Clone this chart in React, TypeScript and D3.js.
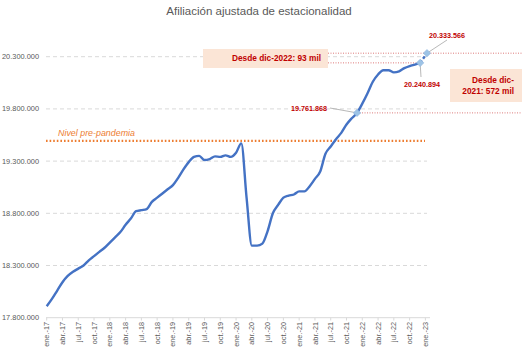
import React from "react";
import * as d3 from "d3";

const W = 522;
const H = 349;

const yTicks = [17800000, 18300000, 18800000, 19300000, 19800000, 20300000];
const xTickLabels = [
  "ene.-17", "abr.-17", "jul.-17", "oct.-17",
  "ene.-18", "abr.-18", "jul.-18", "oct.-18",
  "ene.-19", "abr.-19", "jul.-19", "oct.-19",
  "ene.-20", "abr.-20", "jul.-20", "oct.-20",
  "ene.-21", "abr.-21", "jul.-21", "oct.-21",
  "ene.-22", "abr.-22", "jul.-22", "oct.-22",
  "ene.-23",
];

// Monthly seasonally adjusted affiliation, ene-2017 .. dic-2022
const afiliacion = [
  17910000, 17980000, 18060000, 18140000, 18200000, 18240000, 18270000, 18300000, 18350000, 18390000, 18430000, 18470000,
  18520000, 18570000, 18620000, 18690000, 18750000, 18820000, 18830000, 18840000, 18910000, 18950000, 18990000, 19030000,
  19070000, 19140000, 19220000, 19290000, 19340000, 19350000, 19310000, 19320000, 19345000, 19340000, 19355000, 19340000,
  19380000, 19470000, 18950000, 18490000, 18490000, 18510000, 18630000, 18800000, 18880000, 18950000, 18970000, 18980000,
  19010000, 19010000, 19060000, 19130000, 19200000, 19370000, 19440000, 19510000, 19570000, 19650000, 19710000, 19761868,
  19850000, 19950000, 20060000, 20130000, 20170000, 20170000, 20150000, 20160000, 20190000, 20210000, 20225000, 20240894,
];
const proyeccion = [20240894, 20333566]; // dic-22 -> ene-23
const nivelPrePandemia = 19493000;
const marcados = [
  { idx: 59, value: 19761868, label: "19.761.868" },
  { idx: 71, value: 20240894, label: "20.240.894" },
  { idx: 72.3, value: 20333566, label: "20.333.566" },
];

const fmt = (v: number) => d3.format(",")(v).replace(/,/g, ".");

export default function App() {
  const x = d3.scaleLinear().domain([0, 72]).range([46.7, 425.4]);
  const y = d3.scaleLinear().domain([17800000, 20300000]).range([317.7, 56.7]);

  const line = d3
    .line<number>()
    .x((_, i) => x(i))
    .y((d) => y(d))
    .curve(d3.curveMonotoneX);

  const projX = [71, 72.3];
  const projLine = d3
    .line<number>()
    .x((_, i) => x(projX[i]))
    .y((d) => y(d));

  const font = "Liberation Sans, Arial, sans-serif";
  const red = "#c00000";
  const gridRight = 427;

  const [m21, m22, m23] = marcados;

  return (
    <svg
      width={W}
      height={H}
      style={{ position: "absolute", left: 0, top: 0, background: "#fff" }}
      fontFamily={font}
    >
      <text x={259} y={15} textAnchor="middle" fontSize={11.5} fill="#595959">
        Afiliación ajustada de estacionalidad
      </text>

      {/* grid */}
      {yTicks.map((t) => (
        <g key={t}>
          {t !== 17800000 && (
            <line
              x1={46}
              x2={gridRight}
              y1={y(t)}
              y2={y(t)}
              stroke="#d9d9d9"
              strokeWidth={1}
              strokeDasharray="4,3"
            />
          )}
          <text
            x={39}
            y={y(t)}
            dy="0.35em"
            textAnchor="end"
            fontSize={7.4}
            fill="#595959"
          >
            {fmt(t)}
          </text>
        </g>
      ))}

      {/* x axis */}
      <line x1={46} x2={430} y1={317.7} y2={317.7} stroke="#d9d9d9" strokeWidth={1} />
      {xTickLabels.map((lab, i) => (
        <g key={lab}>
          <line x1={x(i * 3)} x2={x(i * 3)} y1={317.7} y2={320.5} stroke="#d9d9d9" />
          <text
            transform={`translate(${x(i * 3)},322) rotate(-90)`}
            dy="0.35em"
            textAnchor="end"
            fontSize={7.3}
            fill="#595959"
          >
            {lab}
          </text>
        </g>
      ))}

      {/* pre-pandemic */}
      <line
        x1={46}
        x2={425}
        y1={y(nivelPrePandemia)}
        y2={y(nivelPrePandemia)}
        stroke="#ed7d31"
        strokeWidth={2.2}
        strokeDasharray="1.6,2"
      />
      <text x={58} y={y(nivelPrePandemia) - 5} fontSize={8.9} fontStyle="italic" fill="#ed7d31">
        Nivel pre-pandemia
      </text>

      {/* red dotted reference lines */}
      <line x1={328} x2={W} y1={y(m23.value)} y2={y(m23.value)} stroke={red} strokeWidth={0.8} strokeDasharray="1,1.5" opacity={0.65} />
      <line x1={328} x2={x(m22.idx)} y1={y(m22.value)} y2={y(m22.value)} stroke={red} strokeWidth={0.8} strokeDasharray="1,1.5" opacity={0.65} />
      <line x1={x(m21.idx)} x2={W} y1={y(m21.value)} y2={y(m21.value)} stroke={red} strokeWidth={0.8} strokeDasharray="1,1.5" opacity={0.65} />

      {/* data line */}
      <path d={line(afiliacion) || ""} fill="none" stroke="#4472c4" strokeWidth={2.4} strokeLinejoin="round" />
      <path d={projLine(proyeccion) || ""} fill="none" stroke="#4472c4" strokeWidth={2.4} strokeDasharray="3,2" />

      {/* leader lines */}
      <line x1={330} y1={108} x2={x(m21.idx)} y2={y(m21.value)} stroke="#a6a6a6" strokeWidth={0.8} />
      <line x1={x(m22.idx)} y1={y(m22.value)} x2={421} y2={77} stroke="#a6a6a6" strokeWidth={0.8} />
      <line x1={x(m23.idx)} y1={y(m23.value)} x2={447} y2={40} stroke="#a6a6a6" strokeWidth={0.8} />

      {/* markers */}
      {marcados.map((m) => (
        <rect
          key={m.idx}
          x={-2.6}
          y={-2.6}
          width={5.2}
          height={5.2}
          transform={`translate(${x(m.idx)},${y(m.value)}) rotate(45)`}
          fill="#9dc3e6"
          stroke="#8fb4dd"
          strokeWidth={0.6}
        />
      ))}

      {/* labels */}
      <text x={327} y={108.5} dy="0.35em" textAnchor="end" fontSize={7.2} fontWeight="bold" fill={red}>
        {m21.label}
      </text>
      <text x={422} y={84} dy="0.35em" textAnchor="middle" fontSize={7.2} fontWeight="bold" fill={red}>
        {m22.label}
      </text>
      <text x={447} y={35} dy="0.35em" textAnchor="middle" fontSize={7.2} fontWeight="bold" fill={red}>
        {m23.label}
      </text>

      {/* boxes */}
      <rect x={203} y={49} width={125} height={19} fill="#fbe5d6" />
      <text x={321} y={58.5} dy="0.35em" textAnchor="end" fontSize={8.3} fontWeight="bold" fill={red}>
        Desde dic-2022: 93 mil
      </text>
      <rect x={450} y={69} width={72} height={33} fill="#fbe5d6" />
      <text x={514} y={80} dy="0.35em" textAnchor="end" fontSize={8.3} fontWeight="bold" fill={red}>
        Desde dic-
      </text>
      <text x={514} y={91} dy="0.35em" textAnchor="end" fontSize={8.3} fontWeight="bold" fill={red}>
        2021: 572 mil
      </text>
    </svg>
  );
}
